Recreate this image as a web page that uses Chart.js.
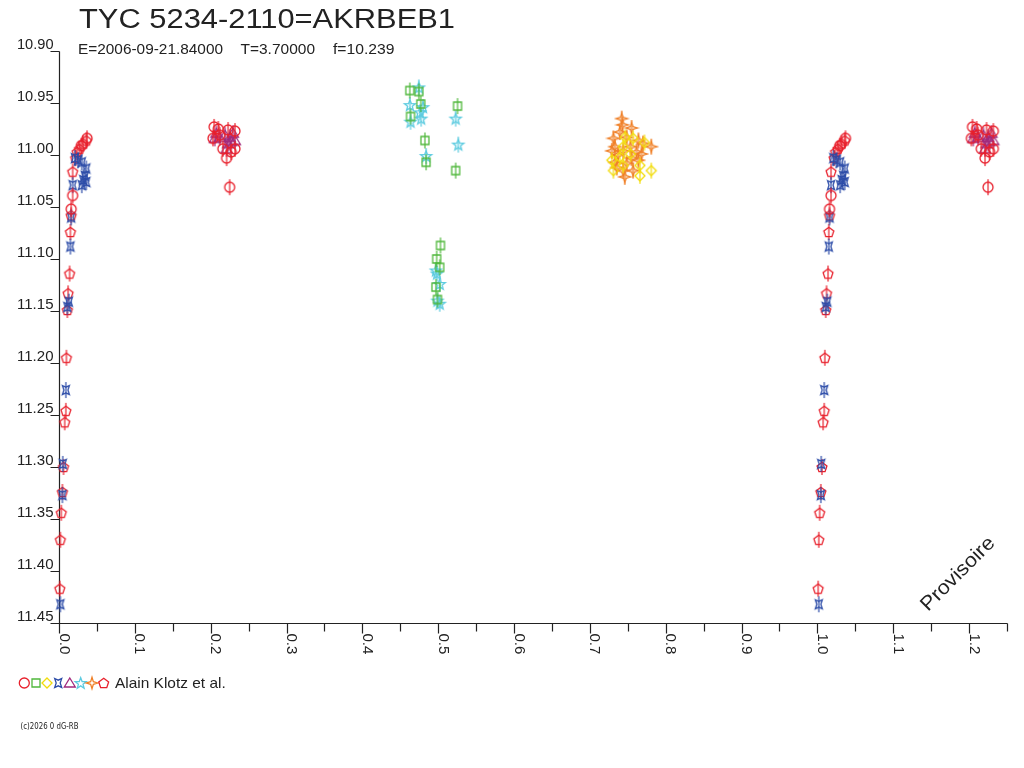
<!DOCTYPE html>
<html>
<head>
<meta charset="utf-8">
<script src="https://cdn.jsdelivr.net/npm/chart.js@4"></script>
<style>
html,body{margin:0;padding:0;background:#fff;}
#c{display:block;}
</style>
</head>
<body>
<canvas id="c" width="1024" height="768"></canvas>
<script>
// ---------- DATA (phase, magnitude) ----------
const titleText = "TYC 5234-2110=AKRBEB1";
const subParts = ["E=2006-09-21.84000", "T=3.70000", "f=10.239"];
const legendText = "Alain Klotz et al.";
const footerText = "(c)2026 0 dG-RB";
const watermark = "Provisoire";

const yTickValues = [10.90, 10.95, 11.00, 11.05, 11.10, 11.15, 11.20, 11.25, 11.30, 11.35, 11.40, 11.45];
const yTickLabels = ["10.90","10.95","11.00","11.05","11.10","11.15","11.20","11.25","11.30","11.35","11.40","11.45"];
const xTickValues = [0.0,0.1,0.2,0.3,0.4,0.5,0.6,0.7,0.8,0.9,1.0,1.1,1.2];
const xTickLabels = ["0.0","0.1","0.2","0.3","0.4","0.5","0.6","0.7","0.8","0.9","1.0","1.1","1.2"];

// red circles
const circPhase = [0.037,0.0295,0.018,0.016,0.2045,0.203,0.210,0.223,0.232,0.216,0.221,0.227,0.232,0.225,0.212];
const circMag   = [10.984,10.991,11.039,11.052,10.973,10.984,10.975,10.976,10.977,10.994,11.003,10.997,10.994,11.031,10.981];
// green squares
const sqPhase = [0.4625,0.4745,0.477,0.4635,0.4825,0.484,0.5255,0.523,0.503,0.498,0.502,0.497,0.499];
const sqMag   = [10.938,10.939,10.951,10.963,10.986,11.007,10.953,11.015,11.087,11.100,11.108,11.127,11.139];
// yellow diamonds
const diaPhase = [0.7465,0.757,0.772,0.744,0.7535,0.7395,0.729,0.766,0.731,0.781,0.766,0.744];
const diaMag   = [10.983,10.984,10.988,10.992,10.999,11.002,11.005,11.010,11.015,11.015,11.020,11.010];
// blue 4-corner stars
const bstarPhase = [0.021,0.025,0.030,0.036,0.034,0.032,0.030,0.018,0.036,0.016,0.015,0.013,0.011,0.009,0.005,0.0045,0.0018];
const bstarMag   = [11.003,11.005,11.007,11.013,11.020,11.024,11.029,11.029,11.026,11.060,11.088,11.141,11.146,11.226,11.297,11.327,11.432];
// purple triangles
const triPhase = [0.2075,0.212,0.219,0.225,0.2295,0.223,0.227,0.221,0.232,0.2055];
const triMag   = [10.979,10.983,10.981,10.983,10.979,10.989,10.987,10.994,10.986,10.984];
// cyan stars
const cstarPhase = [0.4745,0.4627,0.480,0.476,0.4775,0.4635,0.523,0.5265,0.484,0.497,0.4985,0.502,0.499,0.502];
const cstarMag   = [10.935,10.952,10.954,10.959,10.965,10.968,10.965,10.990,11.001,11.111,11.114,11.124,11.140,11.143];
// orange 4-point stars
const ostarPhase = [0.742,0.743,0.755,0.7395,0.731,0.7485,0.764,0.770,0.733,0.7535,0.781,0.729,0.744,0.7615,0.737,0.768,0.755,0.733,0.764,0.7485,0.7355,0.744,0.757,0.746];
const ostarMag   = [10.965,10.971,10.974,10.978,10.984,10.983,10.986,10.989,10.992,10.992,10.992,10.996,10.996,10.997,11.000,10.999,11.003,11.007,11.005,11.008,11.012,11.015,11.015,11.021];
// red pentagons
const pentPhase = [0.036,0.032,0.027,0.024,0.022,0.018,0.016,0.015,0.014,0.012,0.011,0.0098,0.009,0.0075,0.006,0.0045,0.003,0.0018,0.001];
const pentMag   = [10.986,10.989,10.994,10.997,11.003,11.016,11.058,11.074,11.114,11.133,11.149,11.195,11.246,11.257,11.300,11.324,11.344,11.370,11.417];

const seriesTypes  = ["circle","square","diamond","bstar","triangle","cstar","ostar","pentagon"];
const seriesColors = ["#e8202c","#50b83c","#f2dc0a","#2c4ca8","#a0287c","#5ccbe0","#f08028","#e8202c"];
const seriesPhases = [circPhase,sqPhase,diaPhase,bstarPhase,triPhase,cstarPhase,ostarPhase,pentPhase];
const seriesMags   = [circMag,sqMag,diaMag,bstarMag,triMag,cstarMag,ostarMag,pentMag];

// ---------- symbols ----------
function polyPath(ctx, pts){ ctx.moveTo(pts[0][0],pts[0][1]); for(let i=1;i<pts.length;i++) ctx.lineTo(pts[i][0],pts[i][1]); ctx.closePath(); }
function starPts(cx,cy,n,ro,ri,start){
  const p=[]; for(let i=0;i<2*n;i++){ const a=start+i*Math.PI/n; const r=(i%2===0)?ro:ri; p.push([cx+r*Math.cos(a), cy+r*Math.sin(a)]); } return p;
}
function drawSym(ctx, type, cx, cy, color){
  ctx.save();
  ctx.strokeStyle=color; ctx.lineWidth=1.3; ctx.beginPath();
  switch(type){
    case "circle": ctx.arc(cx,cy,5,0,2*Math.PI); break;
    case "square": ctx.rect(cx-4,cy-4,8,8); break;
    case "diamond": polyPath(ctx,[[cx,cy-5],[cx+5,cy],[cx,cy+5],[cx-5,cy]]); break;
    case "bstar": polyPath(ctx,[[cx-3.5,cy-4.5],[cx,cy-2.8],[cx+3.5,cy-4.5],[cx+2,cy],[cx+3.5,cy+4.5],[cx,cy+2.8],[cx-3.5,cy+4.5],[cx-2,cy]]); break;
    case "triangle": polyPath(ctx,[[cx,cy-5],[cx+5.5,cy+4],[cx-5.5,cy+4]]); break;
    case "cstar": polyPath(ctx,starPts(cx,cy+0.5,5,5.8,2.4,-Math.PI/2)); break;
    case "ostar": polyPath(ctx,starPts(cx,cy,4,5.8,1.9,-Math.PI/2)); break;
    case "pentagon": polyPath(ctx,starPts(cx,cy+0.5,5,5.2,5.2*Math.cos(Math.PI/5),-Math.PI/2).filter((_,i)=>i%2===0)); break;
  }
  ctx.stroke();
  ctx.restore();
}
function makeMarker(type,color){
  const cv=document.createElement("canvas"); cv.width=16; cv.height=18;
  const g=cv.getContext("2d");
  drawSym(g,type,8,9,color);
  g.strokeStyle=color; g.lineWidth=1.2; g.beginPath(); g.moveTo(8,1); g.lineTo(8,17); g.stroke();
  return cv;
}

// ---------- datasets (phase-folded: phases < 0.25 repeated at +1) ----------
const datasets = seriesTypes.map((t,k)=>{
  const pts=[];
  seriesPhases[k].forEach((p,i)=>{ pts.push({x:p,y:seriesMags[k][i]}); });
  seriesPhases[k].forEach((p,i)=>{ if(p<0.25) pts.push({x:p+1,y:seriesMags[k][i]}); });
  return { label:t, data:pts, pointStyle:makeMarker(t,seriesColors[k]), pointRadius:6, showLine:false, clip:false };
});

const AX = "#222";
function fitText(ctx, s, x, y, w){
  const m=ctx.measureText(s).width; ctx.save(); ctx.translate(x,y); ctx.scale(w/m,1); ctx.fillText(s,0,0); ctx.restore();
}
const decor = {
  id:"decor",
  beforeDatasetsDraw(chart){
    const ctx=chart.ctx, xs=chart.scales.x, ys=chart.scales.y;
    ctx.save();
    ctx.strokeStyle=AX; ctx.lineWidth=1.2;
    const x0=Math.round(xs.getPixelForValue(0))+0.5;
    const yb=Math.round(ys.getPixelForValue(11.45))+0.5;
    const yt=Math.round(ys.getPixelForValue(10.90))+0.5;
    const xe=Math.round(xs.getPixelForValue(1.25))+0.5;
    ctx.beginPath();
    ctx.moveTo(x0,yt); ctx.lineTo(x0,yb);
    ctx.moveTo(x0,yb); ctx.lineTo(xe,yb);
    yTickValues.forEach(v=>{ const y=Math.round(ys.getPixelForValue(v))+0.5; ctx.moveTo(x0-9,y); ctx.lineTo(x0,y); });
    for(let i=0;i<=25;i++){ const v=i*0.05; const x=Math.round(xs.getPixelForValue(v))+0.5; ctx.moveTo(x,yb); ctx.lineTo(x,yb+(i%2===0?10:8)); }
    ctx.stroke();
    ctx.fillStyle=AX; ctx.font="14px 'Liberation Sans', Arial, sans-serif"; ctx.textAlign="left"; ctx.textBaseline="alphabetic";
    yTickValues.forEach((v,i)=>{ const y=ys.getPixelForValue(v); fitText(ctx, yTickLabels[i], x0-42.5, y-2, 36.5); });
    ctx.font="15px 'Liberation Sans', Arial, sans-serif";
    xTickValues.forEach((v,i)=>{ const x=xs.getPixelForValue(v); ctx.save(); ctx.translate(x+0.5, yb+10); ctx.rotate(Math.PI/2); ctx.fillText(xTickLabels[i],0,0); ctx.restore(); });
    ctx.restore();
  },
  afterDraw(chart){
    const ctx=chart.ctx;
    ctx.save();
    ctx.fillStyle=AX; ctx.textAlign="left"; ctx.textBaseline="alphabetic";
    ctx.font="27px 'Liberation Sans', Arial, sans-serif";
    fitText(ctx, titleText, 79, 27.5, 376);
    ctx.font="15px 'Liberation Sans', Arial, sans-serif";
    const sx=[78,240.5,333]; const sw=[145,74.5,61.5];
    subParts.forEach((s,i)=>fitText(ctx, s, sx[i], 54, sw[i]));
    const lx=[24.3,36,47,58.2,69.8,80.7,92,103.7];
    seriesTypes.forEach((t,k)=>drawSym(ctx,t,lx[k],683,seriesColors[k]));
    ctx.fillStyle=AX; ctx.font="15px 'Liberation Sans', Arial, sans-serif";
    fitText(ctx, legendText, 115, 688, 110.7);
    ctx.font="8px 'DejaVu Sans', sans-serif";
    fitText(ctx, footerText, 20.5, 729, 58);
    ctx.font="20px 'Liberation Sans', Arial, sans-serif";
    ctx.save(); ctx.translate(928,612); ctx.rotate(-Math.PI/4); fitText(ctx, watermark, 0, 0, 96); ctx.restore();
    ctx.restore();
  }
};

new Chart(document.getElementById("c"), {
  type:"scatter",
  data:{ datasets },
  options:{
    responsive:false, animation:false, devicePixelRatio:1,
    layout:{ padding:{ left:59, top:51, right:17, bottom:145 } },
    plugins:{ legend:{display:false}, tooltip:{enabled:false} },
    scales:{
      x:{ type:"linear", min:0, max:1.25, display:false },
      y:{ type:"linear", min:10.90, max:11.45, reverse:true, display:false }
    }
  },
  plugins:[decor]
});
</script>
</body>
</html>
